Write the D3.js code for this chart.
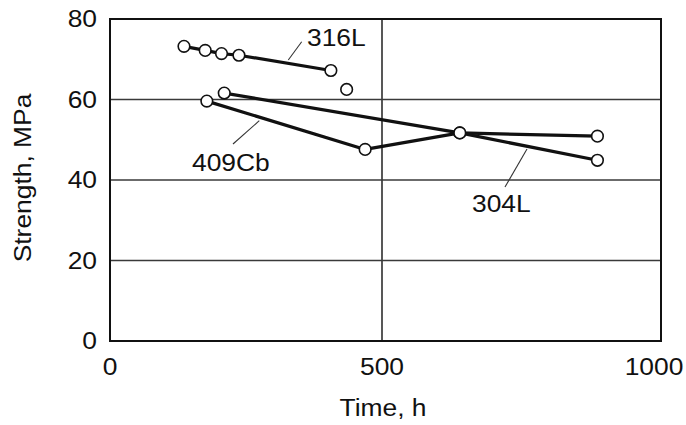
<!DOCTYPE html>
<html>
<head>
<meta charset="utf-8">
<script src="https://cdn.jsdelivr.net/npm/d3@7"></script>
<style>
html,body{margin:0;padding:0;background:#fff;}
svg{display:block;font-family:"Liberation Sans",Arial,Helvetica,sans-serif;}
</style>
</head>
<body>
<svg id="chart" width="686" height="425"></svg>
<script>
// Data (Time in h, Strength in MPa)
const xTicks = [0, 500, 1000];
const yTicks = [0, 20, 40, 60, 80];
const s316L_time = [136, 175, 205, 237, 406];
const s316L_strength = [73.2, 72.2, 71.4, 71.0, 67.2];
const s316L_extraTime = [435];
const s316L_extraStrength = [62.5];
const s304L_time = [210, 643, 896];
const s304L_strength = [61.6, 51.7, 44.9];
const s409Cb_time = [178, 469, 643, 896];
const s409Cb_strength = [59.6, 47.6, 51.7, 50.9];
const seriesLabels = ["316L", "409Cb", "304L"];

const svg = d3.select("#chart");
const x = d3.scaleLinear().domain([0, 1000]).range([110, 654]);
const y = d3.scaleLinear().domain([0, 80]).range([341, 19]);
const frameRight = 661;
const sx = 1.1; // horizontal text stretch
const fs = 24;

function txt(g, px, py, str, size, anchor) {
  g.append("text")
    .attr("transform", `translate(${px},${py}) scale(${sx},1)`)
    .attr("text-anchor", anchor || "middle")
    .attr("font-size", size)
    .attr("fill", "#111")
    .text(str);
}

// gridlines
const grid = svg.append("g");
grid.selectAll("line.h").data(yTicks.filter(d => d > 0 && d < 80)).enter().append("line")
  .attr("x1", x(0)).attr("x2", frameRight)
  .attr("y1", d => y(d)).attr("y2", d => y(d))
  .attr("stroke", "#3a3a3a").attr("stroke-width", 1.7);
grid.selectAll("line.v").data([500]).enter().append("line")
  .attr("x1", d => x(d)).attr("x2", d => x(d))
  .attr("y1", y(80)).attr("y2", y(0))
  .attr("stroke", "#3a3a3a").attr("stroke-width", 1.7);

// frame
svg.append("rect")
  .attr("x", x(0)).attr("y", y(80))
  .attr("width", frameRight - x(0)).attr("height", y(0) - y(80))
  .attr("fill", "none").attr("stroke", "#111").attr("stroke-width", 2);

// tick labels
const tl = svg.append("g");
yTicks.forEach(v => txt(tl, 97, y(v) + 8, String(v), fs, "end"));
xTicks.forEach(v => txt(tl, x(v), 375, String(v), fs, "middle"));

// axis titles
txt(svg, 383, 416, "Time, h", fs, "middle");
svg.append("text")
  .attr("transform", `translate(31,178) rotate(-90) scale(${sx},1)`)
  .attr("text-anchor", "middle").attr("font-size", fs).attr("fill", "#111")
  .text("Strength, MPa");

// series
const line = d3.line().x(d => x(d[0])).y(d => y(d[1]));
const series = [
  d3.zip(s316L_time, s316L_strength),
  d3.zip(s409Cb_time, s409Cb_strength),
  d3.zip(s304L_time, s304L_strength)
];
series.forEach(pts => {
  svg.append("path").attr("d", line(pts))
    .attr("fill", "none").attr("stroke", "#111").attr("stroke-width", 3.2)
    .attr("stroke-linejoin", "round");
});
const allPts = series.flat().concat(d3.zip(s316L_extraTime, s316L_extraStrength));
svg.append("g").selectAll("circle").data(allPts).enter().append("circle")
  .attr("cx", d => x(d[0])).attr("cy", d => y(d[1])).attr("r", 5.8)
  .attr("fill", "#fff").attr("stroke", "#111").attr("stroke-width", 1.6);

// labels with leaders
const lab = svg.append("g");
const leaders = [[301.7, 41.7, 288.3, 60], [233, 144, 259.3, 120.7], [505, 187, 527, 149]];
lab.selectAll("line").data(leaders).enter().append("line")
  .attr("x1", d => d[0]).attr("y1", d => d[1]).attr("x2", d => d[2]).attr("y2", d => d[3])
  .attr("stroke", "#333").attr("stroke-width", 1.1);
txt(lab, 307, 46, seriesLabels[0], fs, "start");
txt(lab, 192, 171, seriesLabels[1], fs, "start");
txt(lab, 472, 212, seriesLabels[2], fs, "start");
</script>
</body>
</html>
